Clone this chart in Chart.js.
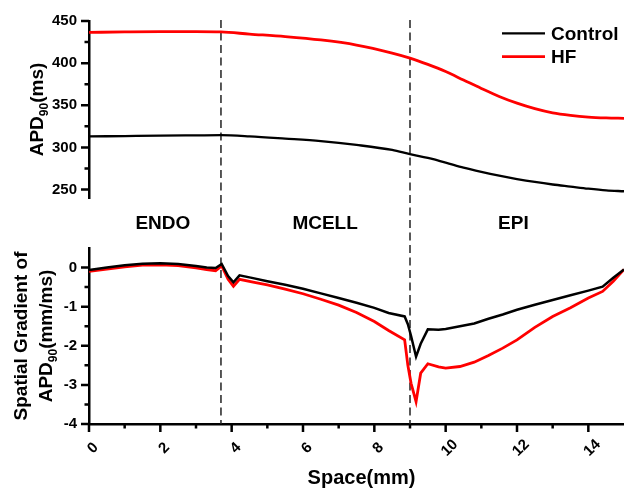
<!DOCTYPE html>
<html><head><meta charset="utf-8">
<script src="https://cdn.jsdelivr.net/npm/chart.js@4.4.1/dist/chart.umd.min.js"></script>
<style>
html,body{margin:0;padding:0;background:#fff;}
#wrap{position:relative;width:624px;height:488px;overflow:hidden;background:#fff;}
canvas{position:absolute;left:0;top:0;}
</style></head><body>
<div id="wrap"><canvas id="bot" width="624" height="488"></canvas><canvas id="top" width="624" height="488"></canvas></div>
<script>
// ---------- data ----------
const seriesNames = ['Control', 'HF'];
const topX       = [0, 1, 2, 3, 3.7, 4.5, 5.5, 6.5, 7.5, 8.5, 9, 9.5, 10, 10.5, 11, 11.5, 12, 12.5, 13, 13.5, 14, 14.5, 15];
const topControl = [313, 313.5, 314, 314.3, 314.5, 313.2, 310.5, 307.5, 303, 297, 292, 287.5, 282, 276, 271, 266.5, 262.5, 259, 256, 253.5, 251, 249, 248];
const topHF      = [436.5, 437, 437.3, 437.3, 437, 434.5, 431.5, 427.5, 421.5, 412, 406, 398.5, 390, 380, 370, 360.5, 352.5, 346, 341, 338, 336, 335, 334.5];

const botX       = [0, 0.5, 1, 1.5, 2, 2.5, 3, 3.3, 3.55, 3.72, 3.9, 4.05, 4.22, 4.6, 5, 5.5, 6, 6.5, 7, 7.5, 8, 8.4, 8.85, 8.94, 9.03, 9.17, 9.3, 9.5, 9.8, 10, 10.4, 10.8, 11.2, 11.6, 12, 12.5, 13, 13.5, 14, 14.4, 14.7, 15];
const botControl = [-0.06, 0.0, 0.06, 0.10, 0.11, 0.09, 0.04, 0.0, -0.01, 0.09, -0.22, -0.38, -0.20, -0.27, -0.35, -0.44, -0.54, -0.66, -0.78, -0.90, -1.03, -1.16, -1.25, -1.45, -1.75, -2.28, -1.95, -1.58, -1.59, -1.57, -1.50, -1.43, -1.31, -1.20, -1.08, -0.95, -0.83, -0.71, -0.59, -0.49, -0.26, -0.05];
const botHF      = [-0.10, -0.04, 0.02, 0.06, 0.07, 0.05, -0.01, -0.05, -0.08, 0.04, -0.30, -0.48, -0.30, -0.37, -0.44, -0.55, -0.67, -0.81, -0.96, -1.15, -1.38, -1.61, -1.85, -2.50, -2.96, -3.43, -2.70, -2.46, -2.54, -2.57, -2.53, -2.42, -2.25, -2.06, -1.85, -1.53, -1.25, -1.03, -0.78, -0.61, -0.35, -0.05];

const xTicks      = [0, 2, 4, 6, 8, 10, 12, 14];
const xMinorTicks = [1, 3, 5, 7, 9, 11, 13];
const topYTicks   = [250, 300, 350, 400, 450];
const topYMinor   = [275, 325, 375, 425];
const botYTicks   = [-4, -3, -2, -1, 0];
const botYMinor   = [-3.5, -2.5, -1.5, -0.5];
const boundaries  = [3.7, 9.0];
const regionNames = ['ENDO', 'MCELL', 'EPI'];
const xTitle = 'Space(mm)';
const topYTitle = [['APD', false], ['90', true], ['(ms)', false]];
const botYTitle1 = 'Spatial Gradient of';
const botYTitle2 = [['APD', false], ['90', true], ['(mm/ms)', false]];

// ---------- style / layout ----------
const FONT = '"Liberation Sans", Arial, Helvetica, sans-serif';
const COLORS = ['#000000', '#ff0000'];
const WIDTHS = [2.3, 2.8];
const regionPos = [2.07, 6.62, 11.9];
const AXW = 2.5;

function pts(xs, ys) { return xs.map((x, i) => ({x: x, y: ys[i]})); }

function yTickMarks(ctx, scale, majors, minors, left) {
  ctx.save();
  ctx.strokeStyle = '#000'; ctx.lineWidth = AXW; ctx.lineCap = 'butt';
  ctx.beginPath();
  majors.forEach(v => { const y = scale.getPixelForValue(v); ctx.moveTo(left - 8, y); ctx.lineTo(left, y); });
  minors.forEach(v => { const y = scale.getPixelForValue(v); ctx.moveTo(left - 4.5, y); ctx.lineTo(left, y); });
  ctx.stroke();
  ctx.restore();
}

function rotTitle(ctx, baseX, cy, parts, size, subSize) {
  ctx.save();
  ctx.translate(baseX, cy);
  ctx.rotate(-Math.PI / 2);
  ctx.fillStyle = '#000'; ctx.textAlign = 'left'; ctx.textBaseline = 'alphabetic';
  let total = 0;
  const ws = parts.map(p => { ctx.font = 'bold ' + (p[1] ? subSize : size) + 'px ' + FONT; const w = ctx.measureText(p[0]).width; total += w; return w; });
  let x = -total / 2;
  parts.forEach((p, i) => {
    ctx.font = 'bold ' + (p[1] ? subSize : size) + 'px ' + FONT;
    ctx.fillText(p[0], x, p[1] ? 5 : 0);
    x += ws[i];
  });
  ctx.restore();
}

function yScaleCommon(min, max, majors) {
  return {
    type: 'linear', min: min, max: max,
    afterBuildTicks: s => { s.ticks = majors.map(v => ({value: v})); },
    afterFit: s => { s.width = 89; s.paddingTop = 0; s.paddingBottom = 0; },
    grid: {display: false, drawTicks: false, tickLength: 0},
    border: {display: true, color: '#000', width: AXW},
    ticks: {color: '#000', padding: 12, font: {family: FONT, size: 15, weight: 'bold'}}
  };
}

Chart.defaults.devicePixelRatio = 1;

// ---------- top chart ----------
const topPlugin = {
  id: 'topDeco',
  afterDraw(chart) {
    const ctx = chart.ctx, a = chart.chartArea, ys = chart.scales.y;
    yTickMarks(ctx, ys, topYTicks, topYMinor, a.left);
    rotTitle(ctx, 43, (a.top + a.bottom) / 2, topYTitle, 19, 12);
    // legend
    ctx.save();
    chart.data.datasets.forEach((ds, i) => {
      const y = 33.3 + i * 23.4;
      ctx.strokeStyle = ds.borderColor; ctx.lineWidth = ds.borderWidth;
      ctx.beginPath(); ctx.moveTo(502, y); ctx.lineTo(545, y); ctx.stroke();
      ctx.fillStyle = '#000'; ctx.font = 'bold 19px ' + FONT;
      ctx.textAlign = 'left'; ctx.textBaseline = 'middle';
      ctx.fillText(ds.label, 551, y + 1);
    });
    ctx.restore();
  }
};

new Chart(document.getElementById('top'), {
  type: 'line',
  data: {
    datasets: [
      {label: seriesNames[0], data: pts(topX, topControl), borderColor: COLORS[0], borderWidth: WIDTHS[0], pointRadius: 0, cubicInterpolationMode: 'monotone', fill: false},
      {label: seriesNames[1], data: pts(topX, topHF), borderColor: COLORS[1], borderWidth: WIDTHS[1], pointRadius: 0, cubicInterpolationMode: 'monotone', fill: false}
    ]
  },
  options: {
    responsive: false, animation: false,
    layout: {padding: {top: 21, bottom: 290, left: 0, right: 0}},
    plugins: {legend: {display: false}, tooltip: {enabled: false}},
    scales: {
      x: {type: 'linear', min: 0, max: 15, display: false},
      y: yScaleCommon(240, 450, topYTicks)
    }
  },
  plugins: [topPlugin]
});

// ---------- bottom chart ----------
const botPlugin = {
  id: 'botDeco',
  beforeDatasetsDraw(chart) {
    const ctx = chart.ctx, a = chart.chartArea, xs = chart.scales.x;
    ctx.save();
    ctx.strokeStyle = '#222'; ctx.lineWidth = 1.5; ctx.setLineDash([8, 4.5]);
    boundaries.forEach(b => {
      const x = xs.getPixelForValue(b);
      ctx.beginPath(); ctx.moveTo(x, 20); ctx.lineTo(x, a.bottom); ctx.stroke();
    });
    ctx.restore();
    ctx.save();
    ctx.fillStyle = '#000'; ctx.font = 'bold 19px ' + FONT;
    ctx.textAlign = 'center'; ctx.textBaseline = 'alphabetic';
    regionNames.forEach((r, i) => ctx.fillText(r, xs.getPixelForValue(regionPos[i]), 229.3));
    ctx.restore();
  },
  afterDraw(chart) {
    const ctx = chart.ctx, a = chart.chartArea, xs = chart.scales.x, ys = chart.scales.y;
    yTickMarks(ctx, ys, botYTicks, botYMinor, a.left);
    ctx.save();
    ctx.strokeStyle = '#000'; ctx.lineWidth = AXW;
    ctx.beginPath();
    xTicks.forEach(v => { const x = xs.getPixelForValue(v); ctx.moveTo(x, a.bottom); ctx.lineTo(x, a.bottom + 8); });
    xMinorTicks.forEach(v => { const x = xs.getPixelForValue(v); ctx.moveTo(x, a.bottom); ctx.lineTo(x, a.bottom + 4.5); });
    ctx.stroke();
    // rotated tick labels
    ctx.fillStyle = '#000'; ctx.font = 'bold 15px ' + FONT;
    ctx.textAlign = 'center'; ctx.textBaseline = 'middle';
    xTicks.forEach(v => {
      ctx.save();
      ctx.translate(xs.getPixelForValue(v) + 4, a.bottom + 24);
      ctx.rotate(-Math.PI / 4);
      ctx.fillText(String(v), 0, 0);
      ctx.restore();
    });
    // x title
    ctx.font = 'bold 20px ' + FONT; ctx.textBaseline = 'alphabetic';
    ctx.fillText(xTitle, (a.left + a.right) / 2 + 5, 484);
    ctx.restore();
    // y title (two lines)
    const cy = (a.top + a.bottom) / 2;
    rotTitle(ctx, 26.5, cy, [[botYTitle1, false]], 19, 12);
    rotTitle(ctx, 51.5, cy, botYTitle2, 19, 12);
  }
};

new Chart(document.getElementById('bot'), {
  type: 'line',
  data: {
    datasets: [
      {label: seriesNames[0], data: pts(botX, botControl), borderColor: COLORS[0], borderWidth: WIDTHS[0] + 0.2, pointRadius: 0, tension: 0, fill: false},
      {label: seriesNames[1], data: pts(botX, botHF), borderColor: COLORS[1], borderWidth: WIDTHS[1], pointRadius: 0, tension: 0, fill: false}
    ]
  },
  options: {
    responsive: false, animation: false,
    layout: {padding: {top: 248, bottom: 0, left: 0, right: 0}},
    plugins: {legend: {display: false}, tooltip: {enabled: false}},
    scales: {
      x: {
        type: 'linear', min: 0, max: 15,
        afterBuildTicks: s => { s.ticks = xTicks.map(v => ({value: v})); },
        afterFit: s => { s.height = 64; s.paddingLeft = 0; s.paddingRight = 0; },
        grid: {display: false, drawTicks: false, tickLength: 0},
        border: {display: true, color: '#000', width: AXW},
        ticks: {display: false}
      },
      y: yScaleCommon(-4, 0.5, botYTicks)
    }
  },
  plugins: [botPlugin]
});
</script>
</body></html>
